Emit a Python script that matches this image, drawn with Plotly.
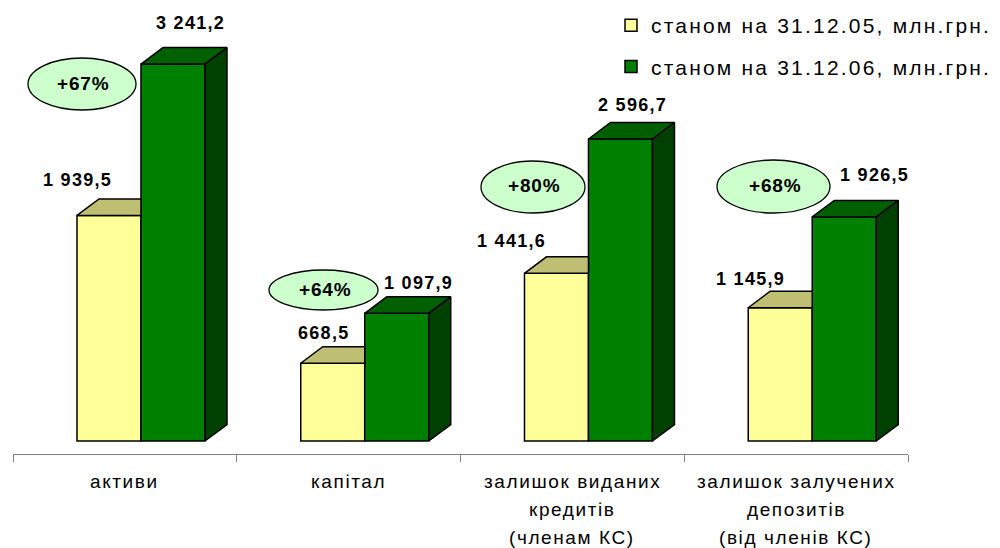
import plotly.graph_objects as go

# ---------------- data ----------------
CATEGORIES = [
    "активи",
    "капітал",
    "залишок виданих<br>кредитів<br>(членам КС)",
    "залишок залучених<br>депозитів<br>(від членів КС)",
]
SERIES_NAMES = ["станом на 31.12.05, млн.грн.", "станом на 31.12.06, млн.грн."]
VALUES_2005 = [1939.5, 668.5, 1441.6, 1145.9]
VALUES_2006 = [3241.2, 1097.9, 2596.7, 1926.5]
GROWTH_LABELS = ["+67%", "+64%", "+80%", "+68%"]

# ---------------- layout constants (pixels) ----------------
W, H = 1000, 548
PL, PR, PT, PB = 13, 908, 10, 454
Y0_PX = 441            # pixel row of value 0 (bar bottoms)
PX_PER_VAL = 0.1163
N = len(CATEGORIES)
PX_PER_CAT = (PR - PL) / N

def dx(px):
    return px / PX_PER_CAT

def dv(px):
    return px / PX_PER_VAL

YMIN = -(PB - Y0_PX) / PX_PER_VAL
YMAX = (Y0_PX - PT) / PX_PER_VAL

BAR_W = dx(64)
OFF_Y = dx(-47.9)
OFF_G = OFF_Y + BAR_W
DEPTH_X = dx(22)
DEPTH_Y = dv(16.5)

C_Y_FRONT, C_Y_TOP = "#FFFF99", "#BFBF73"
C_G_FRONT, C_G_TOP, C_G_SIDE = "#008000", "#006000", "#004000"
EDGE = "black"
FONT = "Arial, Liberation Sans, sans-serif"

def spaced(text, px):
    return f"<span style='letter-spacing:{px}px'>{text}</span>"

fig = go.Figure()

# front faces (bars)
fig.add_trace(go.Bar(
    x=list(range(N)), y=VALUES_2005, width=BAR_W, offset=OFF_Y,
    name=spaced(SERIES_NAMES[0], 2.2), legendgroup="a",
    marker=dict(color=C_Y_FRONT, line=dict(color=EDGE, width=1.5)),
    hoverinfo="skip"))
fig.add_trace(go.Bar(
    x=list(range(N)), y=VALUES_2006, width=BAR_W, offset=OFF_G,
    name=spaced(SERIES_NAMES[1], 2.2), legendgroup="b",
    marker=dict(color=C_G_FRONT, line=dict(color=EDGE, width=1.5)),
    hoverinfo="skip"))

def poly_trace(xs, ys, color):
    return go.Scatter(x=xs, y=ys, mode="lines", fill="toself", fillcolor=color,
                      line=dict(color=EDGE, width=1.5), showlegend=False,
                      hoverinfo="skip")

# yellow tops (clipped where hidden by the green front face)
xs, ys = [], []
for i, v in enumerate(VALUES_2005):
    xl, xr = i + OFF_Y, i + OFF_Y + BAR_W
    xs += [xl, xr, xr, xl + DEPTH_X, xl, None]
    ys += [v, v, v + DEPTH_Y, v + DEPTH_Y, v, None]
fig.add_trace(poly_trace(xs, ys, C_Y_TOP))

# green tops
xs, ys = [], []
for i, v in enumerate(VALUES_2006):
    xl, xr = i + OFF_G, i + OFF_G + BAR_W
    xs += [xl, xr, xr + DEPTH_X, xl + DEPTH_X, xl, None]
    ys += [v, v, v + DEPTH_Y, v + DEPTH_Y, v, None]
fig.add_trace(poly_trace(xs, ys, C_G_TOP))

# green sides
xs, ys = [], []
for i, v in enumerate(VALUES_2006):
    xr = i + OFF_G + BAR_W
    xs += [xr, xr, xr + DEPTH_X, xr + DEPTH_X, xr, None]
    ys += [0, v, v + DEPTH_Y, DEPTH_Y, 0, None]
fig.add_trace(poly_trace(xs, ys, C_G_SIDE))

annotations = []
shapes = []

def fmt(v):
    return f"{v:,.1f}".replace(",", " ").replace(".", ",")

# value labels: offsets (px) of label centre from the front-top centre
LBL_OFF_2005 = [(-31, 35), (-9, 30), (-45, 32), (-30, 29)]
LBL_OFF_2006 = [(18, 41), (22, 30), (12, 34), (30, 42)]
for vals, off, offs in ((VALUES_2005, OFF_Y, LBL_OFF_2005), (VALUES_2006, OFF_G, LBL_OFF_2006)):
    for i, v in enumerate(vals):
        annotations.append(dict(
            x=i + off + BAR_W / 2, y=v, xref="x", yref="y",
            text=f"<b>{spaced(fmt(v), 1.3)}</b>", showarrow=False,
            xanchor="center", yanchor="middle",
            xshift=offs[i][0], yshift=offs[i][1],
            font=dict(family=FONT, size=18, color="black")))

# growth ellipses (pixel boxes)
ELLIPSES = [(28, 58, 136, 110), (269, 270, 378, 310), (481, 161, 585, 213), (717, 160, 830, 213)]
def px2paper_x(px):
    return (px - PL) / (PR - PL)
def px2paper_y(py):
    return (PB - py) / (PB - PT)
for (x0, y0, x1, y1), lab in zip(ELLIPSES, GROWTH_LABELS):
    shapes.append(dict(type="circle", xref="paper", yref="paper",
                       x0=px2paper_x(x0), x1=px2paper_x(x1),
                       y0=px2paper_y(y1), y1=px2paper_y(y0),
                       fillcolor="#CCFFCC", line=dict(color=EDGE, width=1.3),
                       layer="above"))
    annotations.append(dict(
        x=px2paper_x((x0 + x1) / 2 + 1), y=px2paper_y((y0 + y1) / 2 - 1),
        xref="paper", yref="paper", text=f"<b>{spaced(lab, 0.8)}</b>", showarrow=False,
        xanchor="center", yanchor="middle",
        font=dict(family=FONT, size=19, color="black")))

# category labels, one annotation per line
LINE_Y = [27, 55, 83]
for i, cat in enumerate(CATEGORIES):
    for j, line in enumerate(cat.split("<br>")):
        annotations.append(dict(
            x=i, y=0, xref="x", yref="paper", text=spaced(line, 1.6), showarrow=False,
            xanchor="center", yanchor="middle", yshift=-LINE_Y[j],
            font=dict(family=FONT, size=19, color="black")))

fig.update_layout(
    width=W, height=H,
    margin=dict(l=PL, r=W - PR, t=PT, b=H - PB, pad=0, autoexpand=False),
    paper_bgcolor="white", plot_bgcolor="white",
    barmode="overlay",
    xaxis=dict(range=[-0.5, N - 0.5], showgrid=False, zeroline=False,
               showline=True, linecolor="#808080", linewidth=1,
               tickvals=list(range(N)), ticktext=[""] * N, ticks="",
               minor=dict(tickvals=[k - 0.5 for k in range(N + 1)],
                          ticks="outside", ticklen=7, tickcolor="#808080",
                          tickwidth=1, showgrid=False),
               fixedrange=True),
    yaxis=dict(range=[YMIN, YMAX], visible=False, showgrid=False,
               zeroline=False, fixedrange=True),
    legend=dict(x=px2paper_x(611), y=1 + 5 / (PB - PT), xanchor="left", yanchor="top",
                font=dict(family=FONT, size=21, color="black"),
                traceorder="grouped", tracegroupgap=11,
                bgcolor="rgba(0,0,0,0)"),
    shapes=shapes,
    annotations=annotations,
    showlegend=True,
)

fig.write_html(
    "out.html",
    config={"displayModeBar": False},
    post_script="document.body.style.margin='0';document.body.style.overflow='hidden';",
)
